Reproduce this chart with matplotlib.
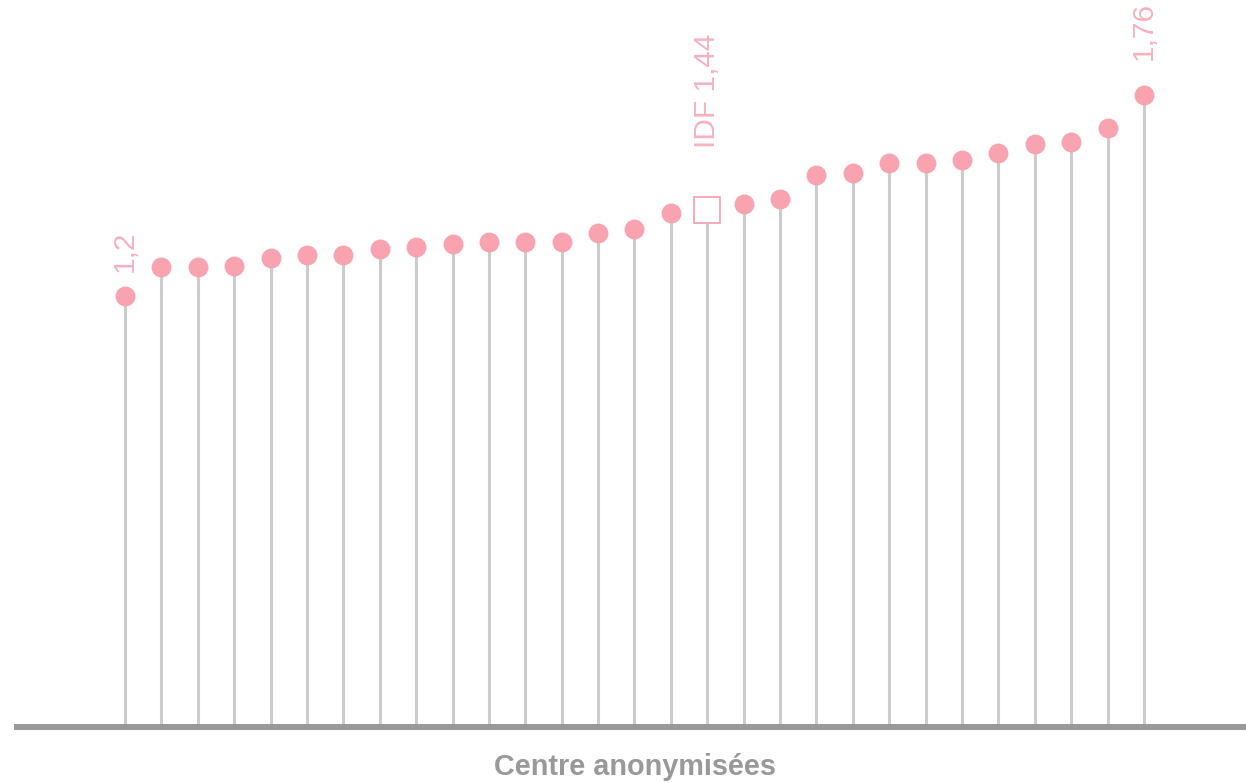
import matplotlib.pyplot as plt

# values (centres sorted, IDF reference inserted in place)
categories = ["C%d" % i for i in range(1, 17)] + ["IDF"] + ["C%d" % i for i in range(17, 29)]
values = [
    1.20, 1.281, 1.281, 1.284, 1.307, 1.316, 1.316, 1.331, 1.338, 1.345,
    1.350, 1.352, 1.352, 1.375, 1.386, 1.433, 1.44, 1.457, 1.472, 1.538,
    1.544, 1.570, 1.570, 1.579, 1.600, 1.624, 1.629, 1.669, 1.76,
]
labels = {0: "1,2", 16: "IDF 1,44", 28: "1,76"}
label_offsets = {0: 17.5, 16: 44.5, 28: 25}  # points above the marker

PINK = "#f9a3b0"
LABEL_PINK = "#f5b3bf"
STEM = "#cccccc"
BASE = "#999999"

plt.rcParams["font.family"] = ["Liberation Sans", "DejaVu Sans"]

fig = plt.figure(figsize=(12.46, 7.83), dpi=100)
ax = fig.add_axes([14 / 1246, 56 / 783, 1232 / 1246, 727 / 783])

x = list(range(len(values)))
ref = categories.index("IDF")

ax.vlines(x, 0, values, color=STEM, lw=2.2, zorder=1)
xs = [i for i in x if i != ref]
ax.plot(xs, [values[i] for i in xs], "o", ms=13.3, color=PINK, mec=PINK, zorder=3)
ax.plot([ref], [values[ref]], "s", ms=18.5, mfc="white", mec=PINK, mew=1.3, zorder=3)

for i, txt in labels.items():
    ax.annotate(txt, (i, values[i]), xytext=(0, label_offsets[i]),
                textcoords="offset points", rotation=90, ha="center", va="bottom",
                color=LABEL_PINK, fontsize=21.5)

ax.axhline(0, color=BASE, lw=4.3, zorder=2, clip_on=False, solid_capstyle="butt")

ax.set_xlim((14 - 125) / 36.39, (1246 - 125) / 36.39)
ax.set_ylim(0, 727 / 359)
ax.axis("off")

fig.text(635 / 1246, 16 / 783, "Centre anonymisées", ha="center", va="center",
         fontsize=20.8, fontweight="bold", color=BASE)

fig.savefig("out.png", dpi=100)
